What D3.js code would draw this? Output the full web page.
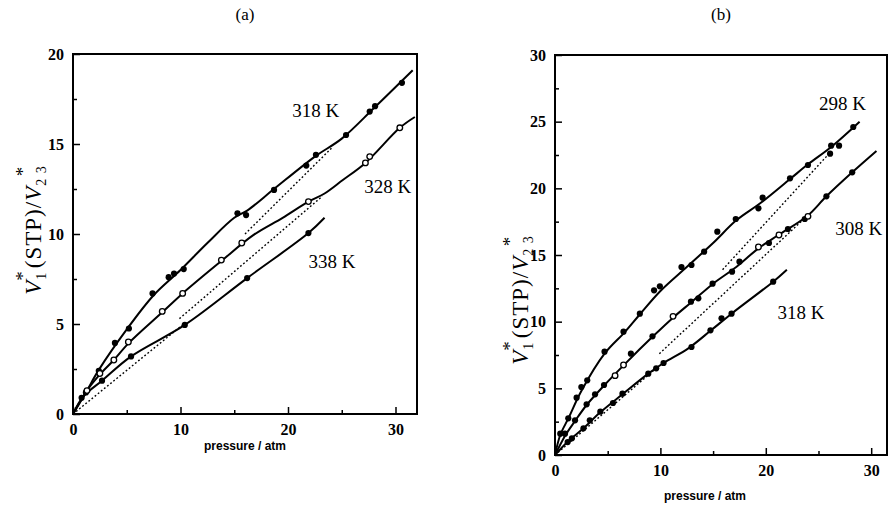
<!DOCTYPE html>
<html lang="en">
<head>
<meta charset="utf-8">
<title>V1*(STP)/V23* vs pressure</title>
<style>
  body { margin: 0; background: #fff; }
  svg { display: block; }
  .tick line { stroke: #000; stroke-width: 1.5; }
  .frame { fill: none; stroke: #000; stroke-width: 2; }
  .curve { fill: none; stroke: #000; stroke-width: 2; }
  .dotted { fill: none; stroke: #000; stroke-width: 1.4; stroke-dasharray: 1.8 2.2; }
  .temp { font-family: "Liberation Serif", serif; font-size: 19px; }
  .title { font-family: "Liberation Serif", serif; font-size: 17px; }
  .xlabel { font-family: "Liberation Sans", sans-serif; font-size: 12px; font-weight: bold; }
  .ylabel { font-family: "Liberation Serif", serif; font-size: 23px; letter-spacing: 1px; }
</style>
</head>
<body>
<svg id="chart" width="890" height="506"></svg>
<script src="https://cdn.jsdelivr.net/npm/d3@7"></script>
<script>
// ---- panel (a): measured points [pressure, V1*/V23*]
const a318 = [[1.2,1.2],[2.4,2.4],[3.9,3.95],[5.2,4.75],[7.4,6.7],[8.9,7.6],[9.4,7.8],[10.3,8.05],
              [15.3,11.15],[16.1,11.05],[18.7,12.45],[21.7,13.8],[22.6,14.4],[25.4,15.5],[27.6,16.8],[28.1,17.1],[30.6,18.4]];
const a328 = [[1.3,1.3],[2.5,2.25],[3.8,3.0],[5.15,4.0],[8.3,5.7],[10.2,6.7],[13.8,8.55],[15.7,9.5],
              [21.9,11.8],[27.2,13.95],[27.6,14.3],[30.4,15.9]];
const a338 = [[0.8,0.9],[2.7,1.85],[5.4,3.2],[10.4,4.95],[16.2,7.55],[21.9,10.05]];
// fitted curves
const a318Fit = [[0,0],[1.2,1.2],[2.4,2.45],[5,4.7],[7.5,6.6],[10,8.0],[12.5,9.5],[15,10.9],[16.2,11.3],
                 [18.7,12.5],[22.5,14.3],[25,15.3],[28,17.0],[31.6,19.1]];
const a328Fit = [[0,0],[1.3,1.3],[2.5,2.2],[3.8,3.0],[5.2,3.95],[8.3,5.65],[10.2,6.7],[13.8,8.5],[16.8,9.95],
                 [19.5,10.9],[21.9,11.8],[23.4,12.25],[25.1,13.0],[27.2,13.95],[30.4,15.9],[31.8,16.5]];
const a338Fit = [[0,0],[1,1.0],[2.7,1.85],[5.4,3.2],[10.4,4.95],[16.2,7.55],[21.9,10.05],[23.4,10.9]];
const aDotted = [[[0,0],[10.3,5.0]], [[9.9,5.3],[23.2,12.1]], [[16,10],[24.1,14.8]]];

// ---- panel (b)
const b298 = [[0.5,1.6],[1.26,2.75],[2.05,4.3],[2.5,5.1],[3.06,5.6],[4.7,7.75],[6.5,9.25],[8.05,10.6],[9.4,12.35],
              [9.95,12.65],[12.0,14.1],[12.95,14.25],[14.15,15.25],[15.4,16.75],[17.15,17.7],[19.3,18.5],[19.7,19.3],
              [22.3,20.75],[24.0,21.75],[26.1,22.6],[26.2,23.2],[26.95,23.2],[28.3,24.6]];
const b308 = [[0.95,1.6],[1.9,2.6],[3.0,3.8],[3.8,4.55],[4.65,5.25],[7.2,7.6],[9.25,8.9],[12.9,11.5],[13.6,11.75],
              [14.95,12.85],[16.8,13.75],[17.5,14.5],[20.3,15.9],[22.1,16.95],[23.7,17.7],[25.75,19.4],[28.2,21.2]];
const b308Open = [[5.7,5.95],[6.5,6.75],[11.2,10.4],[19.3,15.6],[21.25,16.5],[24.0,17.9]];
const b318 = [[1.2,0.97],[1.6,1.25],[2.7,2.0],[3.3,2.6],[4.3,3.25],[5.5,3.9],[6.4,4.6],[8.85,6.1],[9.6,6.5],
              [10.3,6.9],[12.95,8.1],[14.75,9.35],[15.8,10.25],[16.75,10.6],[20.7,13.0]];
const b298Fit = [[0,0],[0.5,1.5],[1.3,2.8],[2.5,4.8],[4.7,7.6],[6.6,9.2],[8.0,10.5],[10,12.3],[12.5,14.1],
                 [15,15.9],[17.2,17.6],[19.5,18.9],[22.3,20.7],[24,21.8],[26.2,23.1],[28.9,25.0]];
const b308Fit = [[0,0],[1.0,1.5],[1.9,2.55],[3.0,3.75],[4.7,5.25],[6.6,6.8],[9.3,8.9],[11.2,10.3],[13,11.5],
                 [15,12.85],[17.2,14.1],[19.3,15.5],[21.2,16.5],[23.9,17.9],[25.75,19.4],
                 [28.2,21.2],[30.5,22.8]];
const b318Fit = [[0,0],[1.2,1.0],[2.7,2.0],[4.3,3.2],[6.4,4.55],[8.85,6.1],[10.3,6.9],[12.65,8.0],
                 [14.8,9.35],[16.75,10.6],[20.7,13.0],[22,13.9]];
const bDotted = [[[0,0],[9.6,6.5]], [[9.9,7.6],[24.3,18.2]], [[15.9,13.9],[26.0,22.6]]];

// tick values
const aXMajor = [0,10,20,30], aXMinor = [5,15,25];
const aYMajor = [0,5,10,15,20], aYMinor = [2.5,7.5,12.5,17.5];
const bXMajor = [0,10,20,30], bXMinor = [5,15,25];
const bYMajor = [0,5,10,15,20,25,30], bYMinor = [2.5,7.5,12.5,17.5,22.5,27.5];

const svg = d3.select("#chart");

function styleTicks(s) {
  s.select(".domain").remove();
  s.attr("font-family", "Liberation Serif").attr("font-size", 16).attr("font-weight", "bold");
  s.selectAll("text").attr("fill", "#000");
}

function panel(opt) {
  const x = d3.scaleLinear().domain(opt.xDomain).range(opt.xRange);
  const y = d3.scaleLinear().domain(opt.yDomain).range(opt.yRange);
  const g = svg.append("g");

  // ticks point inward
  g.append("g").attr("transform", "translate(0," + opt.yRange[0] + ")")
    .call(d3.axisBottom(x).tickValues(opt.xMajor).tickSize(-7).tickPadding(8).tickFormat(d3.format("d")))
    .call(styleTicks)
    .call(s => s.selectAll("text").attr("dy", "0.8em"));
  g.append("g").attr("transform", "translate(0," + opt.yRange[0] + ")")
    .call(d3.axisBottom(x).tickValues(opt.xMinor).tickSize(-4).tickFormat(""))
    .call(styleTicks);
  g.append("g").attr("transform", "translate(" + opt.xRange[0] + ",0)")
    .call(d3.axisLeft(y).tickValues(opt.yMajor).tickSize(-7).tickPadding(9).tickFormat(d3.format("d")))
    .call(styleTicks);
  g.append("g").attr("transform", "translate(" + opt.xRange[0] + ",0)")
    .call(d3.axisLeft(y).tickValues(opt.yMinor).tickSize(-4).tickFormat(""))
    .call(styleTicks);

  g.append("rect").attr("class", "frame")
    .attr("x", opt.xRange[0]).attr("y", opt.yRange[1])
    .attr("width", opt.xRange[1] - opt.xRange[0])
    .attr("height", opt.yRange[0] - opt.yRange[1]);

  const line = d3.line().x(d => x(d[0])).y(d => y(d[1])).curve(d3.curveCatmullRom.alpha(0.5));
  const straight = d3.line().x(d => x(d[0])).y(d => y(d[1]));

  g.selectAll(".dotted").data(opt.dotted).enter().append("path")
    .attr("class", "dotted").attr("d", straight);
  g.selectAll(".curve").data(opt.fits).enter().append("path")
    .attr("class", "curve").attr("d", line);

  opt.filled.forEach(pts => {
    g.append("g").selectAll("circle").data(pts).enter().append("circle")
      .attr("cx", d => x(d[0])).attr("cy", d => y(d[1])).attr("r", 3.1).attr("fill", "#000");
  });
  opt.open.forEach(pts => {
    g.append("g").selectAll("circle").data(pts).enter().append("circle")
      .attr("cx", d => x(d[0])).attr("cy", d => y(d[1])).attr("r", 2.8)
      .attr("fill", "#fff").attr("stroke", "#000").attr("stroke-width", 1.3);
  });

  g.selectAll(".temp").data(opt.labels).enter().append("text")
    .attr("class", "temp").attr("x", d => x(d[1])).attr("y", d => y(d[2])).text(d => d[0]);

  const cx = (opt.xRange[0] + opt.xRange[1]) / 2;
  g.append("text").attr("class", "title").attr("x", cx).attr("y", 20)
    .attr("text-anchor", "middle").text(opt.title);
  g.append("text").attr("class", "xlabel").attr("x", cx + opt.xlabDx).attr("y", opt.yRange[0] + opt.xlabDy)
    .attr("text-anchor", "middle").text("pressure / atm");

  // y label: V1*(STP)/V23*
  const t = g.append("text").attr("class", "ylabel")
    .attr("transform", "translate(" + opt.ylabX + "," + opt.ylabY + ") rotate(-90)")
    .attr("text-anchor", "middle");
  t.append("tspan").attr("font-style", "italic").text("V");
  t.append("tspan").attr("font-size", 14).attr("dy", 5).text("1");
  t.append("tspan").attr("font-size", 19).attr("dx", -9).attr("dy", -17).text("*");
  t.append("tspan").attr("dy", 12).attr("dx", 2).text("(STP)/");
  t.append("tspan").attr("font-style", "italic").text("V");
  t.append("tspan").attr("font-size", 14).attr("dy", 5).text("2 3");
  t.append("tspan").attr("font-size", 19).attr("dx", -11).attr("dy", -17).text("*");
}

panel({
  title: "(a)", xDomain: [0, 32], xRange: [73, 417], yDomain: [0, 20], yRange: [414, 54],
  xMajor: aXMajor, xMinor: aXMinor, yMajor: aYMajor, yMinor: aYMinor,
  fits: [a318Fit, a328Fit, a338Fit], dotted: aDotted,
  filled: [a318, a338], open: [a328],
  labels: [["318 K", 20.4, 16.5], ["328 K", 27.1, 12.3], ["338 K", 21.9, 8.1]],
  ylabX: 41, ylabY: 230, xlabDx: 0, xlabDy: 36
});

panel({
  title: "(b)", xDomain: [0, 31.5], xRange: [555, 887], yDomain: [0, 30], yRange: [455, 55],
  xMajor: bXMajor, xMinor: bXMinor, yMajor: bYMajor, yMinor: bYMinor,
  fits: [b298Fit, b308Fit, b318Fit], dotted: bDotted,
  filled: [b298, b308, b318], open: [b308Open],
  labels: [["298 K", 25.05, 25.9], ["308 K", 26.6, 16.5], ["318 K", 21.1, 10.2]],
  ylabX: 528, ylabY: 300, xlabDx: -16, xlabDy: 45
});
</script>
</body>
</html>
